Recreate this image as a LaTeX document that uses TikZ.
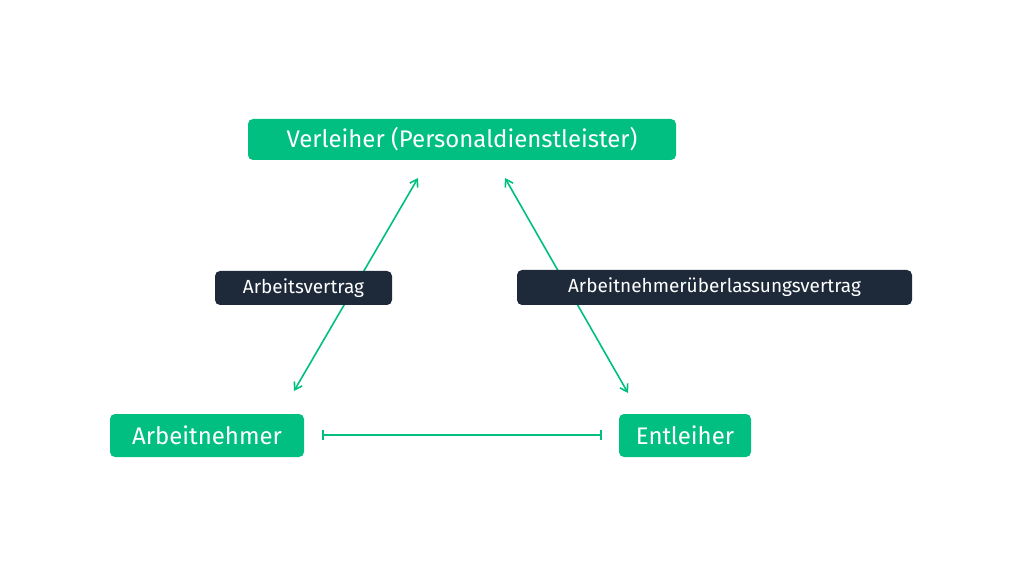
\documentclass[tikz,border=0pt]{standalone}
\usepackage{fontspec}
\setmainfont{Fira Sans}
\usetikzlibrary{arrows.meta}
\definecolor{brandgreen}{RGB}{0,191,128}
\definecolor{navy}{RGB}{30,42,58}
\tikzset{
  party/.style={fill=brandgreen, text=white, rounded corners=5pt, inner sep=0pt, font=\fontsize{24}{28}\selectfont},
  contract/.style={fill=navy, text=white, rounded corners=5pt, inner sep=0pt, font=\fontsize{19}{22}\selectfont},
  link/.style={brandgreen, line width=1.6pt}
}
\begin{document}
\begin{tikzpicture}[x=1pt,y=1pt]
		\useasboundingbox (0,0) rectangle (1024,576);
		% Parties
		\node[party, minimum width=428pt, minimum height=41pt] (verleiher) at (462,436.5) {Verleiher (Personaldienstleister)};
		\node[party, minimum width=194pt, minimum height=43pt] (arbeitnehmer) at (207,140.5) {Arbeitnehmer};
		\node[party, minimum width=132pt, minimum height=43pt] (entleiher) at (685,140.5) {Entleiher};
		
		% Connector ends
		\coordinate (vl) at (418,398);
		\coordinate (vr) at (505,398);
		\coordinate (al) at (294,185);
		\coordinate (er) at (628,183);
		\coordinate (ab) at (322,141);
		\coordinate (eb) at (602,141);
		
		% Connectors
		\draw[link, {Straight Barb[length=7pt,width=9pt]}-{Straight Barb[length=7pt,width=9pt]}] (vl) -- (al);
		\draw[link, {Straight Barb[length=7pt,width=9pt]}-{Straight Barb[length=7pt,width=9pt]}] (vr) -- (er);
		\draw[link, {Bar[width=10pt]}-{Bar[width=10pt]}] (ab) -- (eb);
		
		% Contracts
		\node[contract, minimum width=177pt, minimum height=34pt] (arbeitsvertrag) at (303.5,288) {Arbeitsvertrag};
		\node[contract, minimum width=395pt, minimum height=35pt] (aueVertrag) at (714.5,288.5) {Arbeitnehmerüberlassungsvertrag};
	\end{tikzpicture}
\end{document}
